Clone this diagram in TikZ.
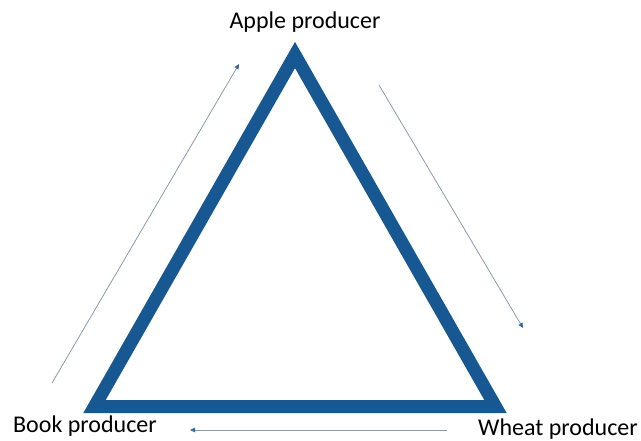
\documentclass[tikz,border=0pt]{standalone}
\usepackage{fontspec}
\setmainfont{Carlito}
\usepackage{tikz}
\usetikzlibrary{arrows.meta, positioning}
\definecolor{TriangleBlue}{HTML}{175893}
\definecolor{FlowGray}{HTML}{8A9BAA}
\definecolor{FlowBlue}{HTML}{2E6DA4}

\begin{document}
\begin{tikzpicture}[x=1pt, y=-1pt]
            \useasboundingbox (0,0) rectangle (641,441);
            % Corners of the triangle
            \coordinate (apple) at (295,55);
            \coordinate (book) at (94.5,406.5);
            \coordinate (wheat) at (495.5,406.5);
            \draw[TriangleBlue, line width=13pt, miter limit=3]
                  (apple) -- (book) -- (wheat) -- cycle;

            % Producer labels
            \node[font=\fontsize{24}{28}\selectfont, inner sep=0pt] (lapple) at (305,22) {Apple producer};
            \node[font=\fontsize{24}{28}\selectfont, inner sep=0pt] (lbook) at (85,426) {Book producer};
            \node[font=\fontsize{24}{28}\selectfont, inner sep=0pt] (lwheat) at (558,429) {Wheat producer};

            % Flow arrows
            \coordinate (a1) at (52,383);
            \coordinate (a2) at (239,64);
            \coordinate (b1) at (379,85);
            \coordinate (b2) at (523,328);
            \coordinate (c1) at (447,430);
            \coordinate (c2) at (190,430);
            \draw[FlowGray, line width=0.8pt, -{Triangle[length=5pt, width=4.5pt, color=FlowBlue]}] (a1) -- (a2);
            \draw[FlowGray, line width=0.8pt, -{Triangle[length=5pt, width=4.5pt, color=FlowBlue]}] (b1) -- (b2);
            \draw[FlowGray, line width=0.8pt, -{Triangle[length=5pt, width=4.5pt, color=FlowBlue]}] (c1) -- (c2);
\end{tikzpicture}
\end{document}
